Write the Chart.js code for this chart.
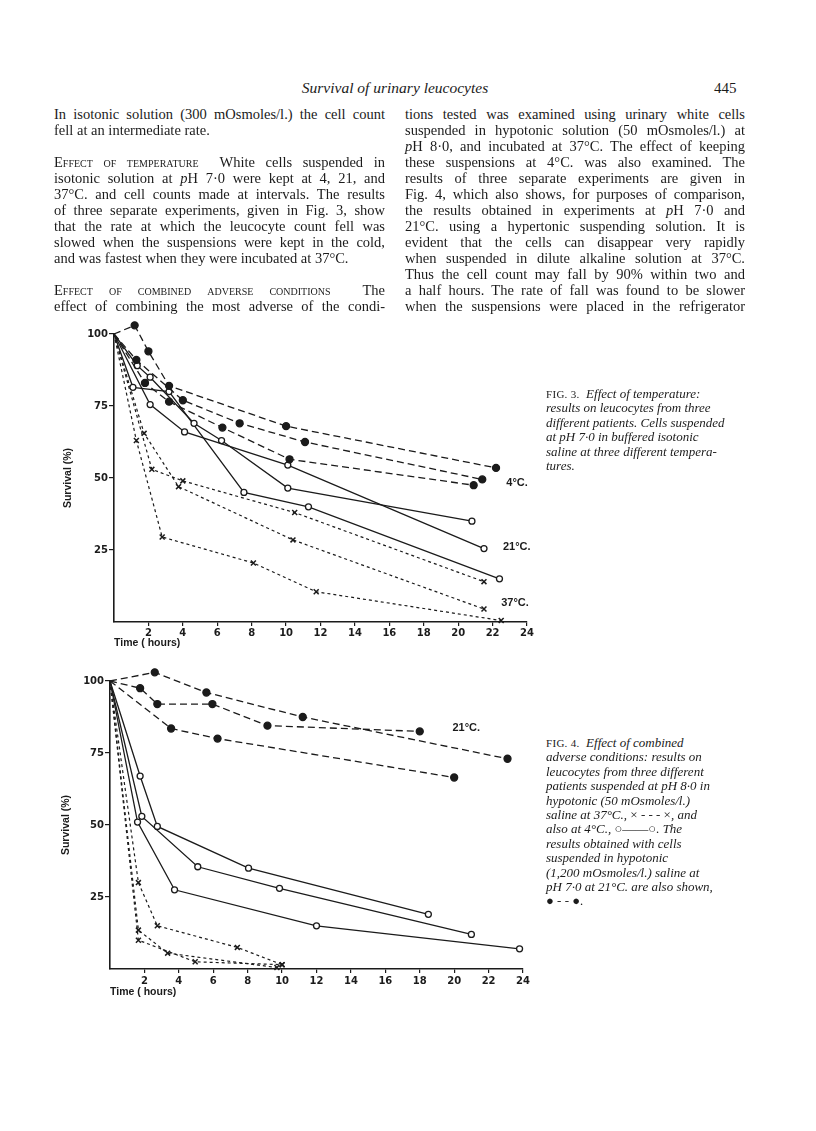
<!DOCTYPE html>
<html lang="en">
<head>
<meta charset="UTF-8" />
<title>Survival of urinary leucocytes</title>
<style>
  body { margin: 0; background: #fff; }
  #page { position: relative; width: 816px; height: 1131px; overflow: hidden; background: #fff;
          font-family: "Liberation Serif", serif; color: #1b1b1b; }
  .ln { position: absolute; white-space: pre; font-size: 14.5px; line-height: 16px; }
  .cap { position: absolute; white-space: pre; font-size: 13px; line-height: 14.4px; font-style: italic; }
  .cap .fig { font-style: normal; font-size: 11px; letter-spacing: 0.3px; }
  .cap .up { font-style: normal; }
  .sc { font-variant: small-caps; }
  canvas { position: absolute; }
</style>
</head>
<body>
<div id="page">
  <div class="ln" style="left:245px; top:80px; width:300px; text-align:center; font-style:italic; font-size:15.5px;">Survival of urinary leucocytes</div>
  <div class="ln" style="left:714px; top:80px; font-size:15px;">445</div>
  <canvas id="fig3" width="530" height="355" style="left:20px; top:305px;"></canvas>
  <canvas id="fig4" width="526" height="360" style="left:20px; top:650px;"></canvas>
</div>

<script src="https://cdn.jsdelivr.net/npm/chart.js"></script>
<script>
  // Fig. 3 - survival (%) against time (hours); [hours, survival]
  const fig3Cold1 = [[0, 100], [1.2, 103], [2.0, 94], [3.2, 82], [10.0, 68], [22.2, 53.5]];
  const fig3Cold2 = [[0, 100], [1.3, 91], [4.0, 77], [7.3, 69], [11.1, 62.5], [21.4, 49.5]];
  const fig3Cold3 = [[0, 100], [1.8, 83], [3.2, 76.5], [6.3, 67.5], [10.2, 56.5], [20.9, 47.5]];
  const fig3Room1 = [[0, 100], [2.1, 75.5], [4.1, 66], [10.1, 54.5], [21.5, 25.5]];
  const fig3Room2 = [[0, 100], [1.35, 89], [2.1, 85], [4.65, 69], [6.25, 63], [10.1, 46.5], [20.8, 35]];
  const fig3Room3 = [[0, 100], [1.1, 81.5], [3.2, 80], [7.55, 45], [11.3, 40], [22.4, 15]];
  const fig3Warm1 = [[0, 100], [1.3, 63], [2.8, 29.5], [8.1, 20.5], [11.75, 10.5], [22.5, 0.5]];
  const fig3Warm2 = [[0, 100], [1.75, 65.5], [3.75, 47], [10.4, 28.5], [21.5, 4.5]];
  const fig3Warm3 = [[0, 100], [2.2, 53], [4.0, 49], [10.5, 38], [21.5, 14]];

  // Fig. 4
  const fig4Hyper1 = [[0, 100], [2.6, 103], [5.6, 96], [11.2, 87.5], [23.1, 73]];
  const fig4Hyper2 = [[0, 100], [1.75, 97.5], [2.75, 92], [5.95, 92], [9.15, 84.5], [18.0, 82.5]];
  const fig4Hyper3 = [[0, 100], [3.55, 83.5], [6.25, 80], [20.0, 66.5]];
  const fig4Cold1 = [[0, 100], [1.75, 67], [2.75, 49.5], [8.05, 35], [18.5, 19]];
  const fig4Cold2 = [[0, 100], [1.85, 53], [5.1, 35.5], [9.85, 28], [21.0, 12]];
  const fig4Cold3 = [[0, 100], [1.6, 51], [3.75, 27.5], [12.0, 15], [23.8, 7]];
  const fig4Warm1 = [[0, 100], [1.65, 30], [2.75, 15], [7.4, 7.5], [10.0, 1.5]];
  const fig4Warm2 = [[0, 100], [1.65, 13.5], [3.35, 5.5], [9.7, 0.5]];
  const fig4Warm3 = [[0, 100], [1.65, 10], [4.95, 2.5], [10.0, 1.5]];

  const hourTicks = [2, 4, 6, 8, 10, 12, 14, 16, 18, 20, 22, 24];
  const survivalTicks = [25, 50, 75, 100];

  // page text, one entry per printed line
  const leftLines = [
    ["In isotonic solution (300 mOsmoles/l.) the cell count", true],
    ["fell at an intermediate rate.", false],
    null,
    ["<span class=\"sc\">Effect of temperature</span>  White cells suspended in", true],
    ["isotonic solution at <i>p</i>H 7·0 were kept at 4, 21, and", true],
    ["37°C. and cell counts made at intervals. The results", true],
    ["of three separate experiments, given in Fig. 3, show", true],
    ["that the rate at which the leucocyte count fell was", true],
    ["slowed when the suspensions were kept in the cold,", true],
    ["and was fastest when they were incubated at 37°C.", false],
    null,
    ["<span class=\"sc\">Effect of combined adverse conditions</span>  The", true],
    ["effect of combining the most adverse of the condi-", true]
  ];
  const rightLines = [
    "tions tested was examined using urinary white cells",
    "suspended in hypotonic solution (50 mOsmoles/l.) at",
    "<i>p</i>H 8·0, and incubated at 37°C. The effect of keeping",
    "these suspensions at 4°C. was also examined. The",
    "results of three separate experiments are given in",
    "Fig. 4, which also shows, for purposes of comparison,",
    "the results obtained in experiments at <i>p</i>H 7·0 and",
    "21°C. using a hypertonic suspending solution. It is",
    "evident that the cells can disappear very rapidly",
    "when suspended in dilute alkaline solution at 37°C.",
    "Thus the cell count may fall by 90% within two and",
    "a half hours. The rate of fall was found to be slower",
    "when the suspensions were placed in the refrigerator"
  ];
  const fig3Caption = [
    "<span class=\"fig\">FIG. 3.</span>  Effect of temperature:",
    "results on leucocytes from three",
    "different patients. Cells suspended",
    "at pH 7·0 in buffered isotonic",
    "saline at three different tempera-",
    "tures."
  ];
  const fig4Caption = [
    "<span class=\"fig\">FIG. 4.</span>  Effect of combined",
    "adverse conditions: results on",
    "leucocytes from three different",
    "patients suspended at pH 8·0 in",
    "hypotonic (50 mOsmoles/l.)",
    "saline at 37°C., <span class=\"up\">× - - - ×</span>, and",
    "also at 4°C., <span class=\"up\">○——○</span>. The",
    "results obtained with cells",
    "suspended in hypotonic",
    "(1,200 mOsmoles/l.) saline at",
    "pH 7·0 at 21°C. are also shown,",
    "<span class=\"up\">● - - ●</span>."
  ];

  const page = document.getElementById("page");
  function putLine(html, cls, x, y, w) {
    const d = document.createElement("div");
    d.className = cls;
    d.innerHTML = html;
    d.style.left = x + "px";
    d.style.top = y + "px";
    page.appendChild(d);
    if (w) {
      const gaps = (d.textContent.match(/ /g) || []).length;
      const nat = d.getBoundingClientRect().width;
      if (gaps) d.style.wordSpacing = ((w - nat) / gaps) + "px";
    }
  }
  leftLines.forEach((l, i) => {
    if (l) putLine(l[0], "ln", 54, 106 + i * 16, l[1] ? 331 : 0);
  });
  rightLines.forEach((l, i) => putLine(l, "ln", 405, 106 + i * 16, 340));
  fig3Caption.forEach((l, i) => putLine(l, "cap", 546, 387 + i * 14.4, 0));
  fig4Caption.forEach((l, i) => putLine(l, "cap", 546, 736 + i * 14.4, 0));

  // ---- charts ----
  const ink = "#1b1b1b";
  const tickFont = { family: "DejaVu Sans", weight: "bold", size: 10 };
  const titleFont = { family: "Liberation Sans", weight: "bold", size: 10.5 };

  function series(points, kind) {
    const ds = {
      data: points.map(p => ({ x: p[0], y: p[1] })),
      showLine: true,
      clip: false,
      borderColor: ink,
      borderWidth: 1.3,
      pointBorderColor: ink,
      pointBorderWidth: 1.3,
      pointHoverRadius: 0,
      pointRadius: c => (c.dataIndex === 0 ? 0 : 3.5)
    };
    if (kind === "dot") {
      ds.borderDash = [7, 4];
      ds.pointBackgroundColor = ink;
    } else if (kind === "ring") {
      ds.pointBackgroundColor = "#fff";
      ds.pointRadius = c => (c.dataIndex === 0 ? 0 : 3);
    } else {
      ds.borderDash = [3, 3];
      ds.borderWidth = 1.2;
      ds.pointStyle = "crossRot";
      ds.pointRadius = c => (c.dataIndex === 0 ? 0 : 3.5);
      ds.pointBorderWidth = 1.5;
    }
    return ds;
  }

  // points above 100 % sit outside the chart area; Chart.js skips them, so draw them again
  const overTop = {
    id: "overTop",
    afterDatasetsDraw(chart) {
      const whole = { left: 0, top: 0, right: chart.width, bottom: chart.height };
      chart.data.datasets.forEach((ds, i) => {
        chart.getDatasetMeta(i).data.forEach(pt => {
          if (pt.y < chart.chartArea.top) pt.draw(chart.ctx, whole);
        });
      });
    }
  };

  const tempLabels = {
    id: "tempLabels",
    afterDraw(chart, args, opts) {
      const ctx = chart.ctx;
      ctx.save();
      ctx.fillStyle = ink;
      ctx.font = "bold 11px 'Liberation Sans'";
      ctx.textBaseline = "middle";
      (opts.items || []).forEach(it => {
        ctx.fillText(it.text, chart.scales.x.getPixelForValue(it.x), chart.scales.y.getPixelForValue(it.y));
      });
      ctx.restore();
    }
  };

  function makeChart(id, datasets, geo, labels) {
    return new Chart(document.getElementById(id), {
      type: "scatter",
      data: { datasets: datasets },
      options: {
        responsive: false,
        animation: false,
        events: [],
        layout: { padding: { top: geo.top, right: geo.right, left: 0, bottom: 0 } },
        plugins: { legend: { display: false }, tooltip: { enabled: false }, tempLabels: { items: labels } },
        scales: {
          x: {
            type: "linear", min: 0, max: 24,
            afterBuildTicks: s => { s.ticks = hourTicks.map(v => ({ value: v })); },
            afterFit: s => { s.height = geo.xh; },
            grid: { drawOnChartArea: false, drawTicks: true, tickLength: 4, color: ink, lineWidth: 1.2 },
            border: { display: true, color: ink, width: 1.6 },
            ticks: { color: ink, font: tickFont, padding: geo.xpad, maxRotation: 0, autoSkip: false },
            title: { display: true, text: "Time ( hours)", align: "start", color: ink, font: titleFont,
                     padding: { top: 0, bottom: geo.xtitle } }
          },
          y: {
            type: "linear", min: 0, max: 100,
            afterBuildTicks: s => { s.ticks = survivalTicks.map(v => ({ value: v })); },
            afterFit: s => { s.width = geo.yw; },
            grid: { drawOnChartArea: false, drawTicks: true, tickLength: 5, color: ink, lineWidth: 1.2 },
            border: { display: true, color: ink, width: 1.6 },
            ticks: { color: ink, font: tickFont, padding: 1 },
            title: { display: true, text: "Survival (%)", color: ink, font: titleFont,
                     padding: { top: geo.ytitle, bottom: 0 } }
          }
        }
      },
      plugins: [overTop, tempLabels]
    });
  }

  makeChart("fig3", [
    series(fig3Cold1, "dot"), series(fig3Cold2, "dot"), series(fig3Cold3, "dot"),
    series(fig3Room1, "ring"), series(fig3Room2, "ring"), series(fig3Room3, "ring"),
    series(fig3Warm1, "cross"), series(fig3Warm2, "cross"), series(fig3Warm3, "cross")
  ], { top: 29, right: 23, yw: 94, xh: 38, xpad: 1, xtitle: 11, ytitle: 42 }, [
    { text: "4°C.", x: 22.8, y: 48.3 },
    { text: "21°C.", x: 22.6, y: 25.9 },
    { text: "37°C.", x: 22.5, y: 6.5 }
  ]);

  makeChart("fig4", [
    series(fig4Hyper1, "dot"), series(fig4Hyper2, "dot"), series(fig4Hyper3, "dot"),
    series(fig4Cold1, "ring"), series(fig4Cold2, "ring"), series(fig4Cold3, "ring"),
    series(fig4Warm1, "cross"), series(fig4Warm2, "cross"), series(fig4Warm3, "cross")
  ], { top: 31, right: 23, yw: 90, xh: 41, xpad: 2, xtitle: 12, ytitle: 40 }, [
    { text: "21°C.", x: 19.9, y: 83.7 }
  ]);
</script>
</body>
</html>
